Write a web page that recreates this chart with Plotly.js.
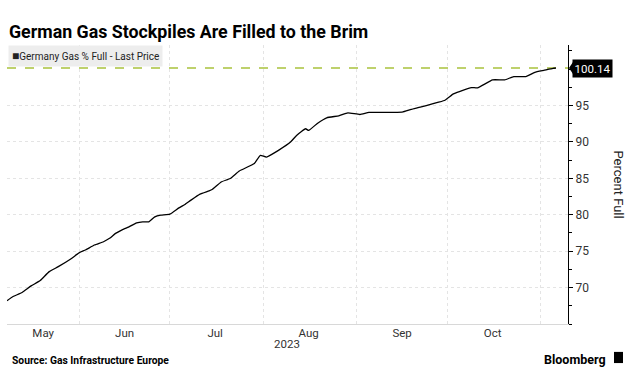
<!DOCTYPE html>
<html>
<head>
<meta charset="utf-8">
<script src="https://cdn.plot.ly/plotly-3.0.1.min.js"></script>
<style>
  html, body { margin: 0; padding: 0; background: #fff; }
  #chart { width: 641px; height: 388px; }
</style>
</head>
<body>
<div id="chart"></div>
<script>
// ---- Data ----
const dates = [
  "2023-05-08","2023-05-10","2023-05-13","2023-05-16","2023-05-19","2023-05-22","2023-05-25","2023-05-29",
  "2023-06-01","2023-06-03","2023-06-06","2023-06-09","2023-06-11","2023-06-13","2023-06-15","2023-06-17",
  "2023-06-20","2023-06-22","2023-06-24","2023-06-26","2023-06-28",
  "2023-07-01","2023-07-04","2023-07-06","2023-07-08","2023-07-11","2023-07-14","2023-07-15","2023-07-18",
  "2023-07-21","2023-07-24","2023-07-29","2023-07-31",
  "2023-08-02","2023-08-06","2023-08-10","2023-08-12","2023-08-15","2023-08-16","2023-08-19","2023-08-22",
  "2023-08-26","2023-08-29",
  "2023-09-02","2023-09-05","2023-09-10","2023-09-16","2023-09-19","2023-09-22","2023-09-26","2023-09-30",
  "2023-10-03","2023-10-05","2023-10-09","2023-10-11","2023-10-16","2023-10-20","2023-10-23","2023-10-27",
  "2023-10-30","2023-11-02","2023-11-05","2023-11-06"
];
const pctFull = [
  68.20,68.77,69.32,70.23,70.96,72.19,72.87,73.89,
  74.79,75.16,75.84,76.29,76.76,77.44,77.89,78.26,
  78.89,79.03,79.03,79.71,79.95,
  80.08,80.94,81.41,82.00,82.82,83.27,83.46,84.50,
  84.97,86.00,87.02,88.15,
  87.92,88.84,89.97,90.89,91.80,91.57,92.57,93.31,
  93.58,93.99,
  93.76,94.04,94.04,94.08,94.45,94.76,95.23,95.68,
  96.59,96.91,97.46,97.41,98.51,98.51,98.96,98.96,
  99.55,99.82,100.09,100.14
];
const monthTickVals = ["2023-05-20","2023-06-16","2023-07-16","2023-08-16","2023-09-16","2023-10-16"];
const monthTickText = ["May","Jun","Jul","Aug","Sep","Oct"];
const yTickVals = [70, 75, 80, 85, 90, 95];
const xRange = ["2023-05-08", "2023-11-10"];
const yRange = [65, 103.3];
const seriesName = "Germany Gas % Full - Last Price";
const yearLabel = "2023";
const chartTitle = "German Gas Stockpiles Are Filled to the Brim";
const yTitle = "Percent Full";
const sourceText = "Source: Gas Infrastructure Europe";
const brandText = "Bloomberg";

const last = pctFull[pctFull.length - 1];
const FONT = "Roboto, 'Liberation Sans', sans-serif";

const trace = {
  x: dates, y: pctFull, type: "scatter", mode: "lines",
  name: seriesName,
  line: { color: "#000000", width: 1.3, shape: "spline", smoothing: 0.4 },
  hoverinfo: "skip", showlegend: false
};

const layout = {
  width: 641, height: 388,
  margin: { l: 7, r: 73, t: 45, b: 64 },
  paper_bgcolor: "#ffffff", plot_bgcolor: "#ffffff",
  font: { family: FONT, size: 12, color: "#222" },
  showlegend: false,
  xaxis: {
    type: "date", range: xRange,
    tickmode: "array", tickvals: monthTickVals, ticktext: monthTickText,
    ticks: "", showgrid: false, ticklabelstandoff: -2,
    tickfont: { family: FONT, size: 11.5, color: "#333" },
    showline: true, linecolor: "#d8d8d8", linewidth: 1,
    zeroline: false, fixedrange: true,
    minor: { dtick: "M1", tick0: "2023-01-01", showgrid: true, gridcolor: "#e4e4e4", griddash: "dot", gridwidth: 1, ticks: "" }
  },
  yaxis: {
    side: "right", range: yRange,
    tickmode: "array", tickvals: yTickVals,
    ticks: "outside", ticklen: 4, tickcolor: "#000", tickwidth: 1,
    tickfont: { family: FONT, size: 12, color: "#333" },
    showline: true, linecolor: "#000", linewidth: 1.2,
    showgrid: true, gridcolor: "#e4e4e4", griddash: "dot", gridwidth: 1,
    zeroline: false, fixedrange: true,
    minor: { dtick: 2.5, tick0: 67.5, ticks: "outside", ticklen: 3, tickcolor: "#000", showgrid: false }
  },
  shapes: [
    { type: "line", xref: "paper", x0: 0, x1: 1, yref: "y", y0: last, y1: last,
      line: { color: "#a9c23c", width: 1.6, dash: "dash" }, layer: "below" },
    { type: "path", xref: "paper", xsizemode: "pixel", xanchor: 1,
      yref: "y", ysizemode: "pixel", yanchor: last,
      path: "M1,0 L5,6 L5,-6 Z", fillcolor: "#000", line: { width: 0 } },
    { type: "rect", xref: "paper", yref: "paper", x0: 1.082, x1: 1.098, y0: -0.140, y1: -0.100,
      fillcolor: "#000", line: { width: 0 }, layer: "above" }
  ],
  annotations: [
    { text: "<b>" + chartTitle + "</b>", xref: "paper", yref: "paper", x: 0, y: 1.0,
      xanchor: "left", yanchor: "bottom", yshift: 1, xshift: 0, showarrow: false,
      font: { family: FONT, size: 17.8, color: "#000" } },
    { text: "<span style='font-size:12px'>■</span>" + seriesName, xref: "paper", yref: "paper", x: 0.002, y: 1.0,
      xanchor: "left", yanchor: "top", showarrow: false, bgcolor: "#ededed", borderpad: 3,
      font: { family: FONT, size: 10, color: "#222" } },
    { text: last.toFixed(2), xref: "paper", yref: "y", x: 1, y: last, xanchor: "left", yanchor: "middle",
      xshift: 4, showarrow: false, bgcolor: "#000", borderpad: 1.5,
      font: { family: FONT, size: 11.5, color: "#fff" } },
    { text: yTitle, xref: "paper", yref: "paper", x: 1, y: 0.5, xshift: 50, textangle: 90,
      xanchor: "center", yanchor: "middle", showarrow: false,
      font: { family: FONT, size: 13, color: "#222" } },
    { text: yearLabel, xref: "paper", yref: "paper", x: 0.499, y: 0, yshift: -11,
      xanchor: "center", yanchor: "top", showarrow: false,
      font: { family: FONT, size: 11.5, color: "#333" } },
    { text: "<b>" + sourceText + "</b>", xref: "paper", yref: "paper", x: 0.005, y: 0, yshift: -28,
      xanchor: "left", yanchor: "top", showarrow: false,
      font: { family: FONT, size: 10.3, color: "#000" } },
    { text: "<b>" + brandText + "</b>", xref: "paper", yref: "paper", x: 1.072, y: 0, yshift: -26,
      xanchor: "right", yanchor: "top", showarrow: false,
      font: { family: FONT, size: 12.5, color: "#000" } }
  ]
};

Plotly.newPlot("chart", [trace], layout, { displayModeBar: false, staticPlot: true });
</script>
</body>
</html>
